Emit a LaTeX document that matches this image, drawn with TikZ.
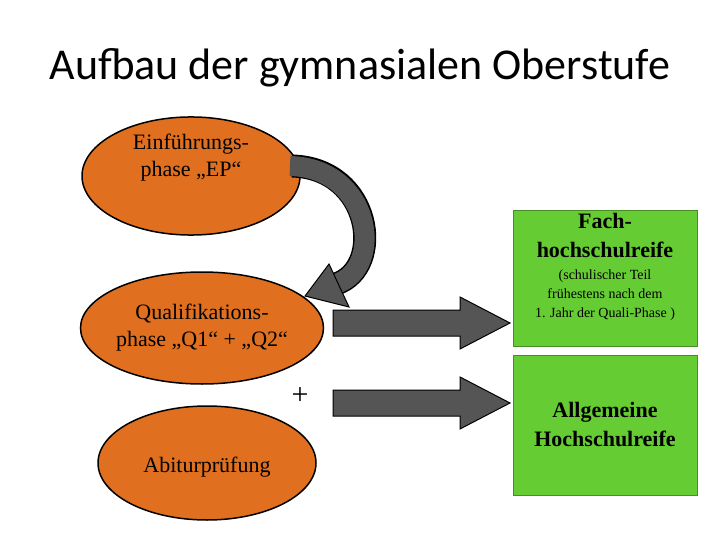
\documentclass[tikz,border=0pt]{standalone}
\usepackage{fontspec}
\setmainfont{Liberation Serif}
\newfontfamily\titlefont{Carlito}
\usetikzlibrary{shapes.geometric}
\definecolor{phaseorange}{HTML}{E07020}
\definecolor{degreegreen}{HTML}{66CC33}
\definecolor{arrowgray}{HTML}{555555}
\begin{document}
\begin{tikzpicture}[x=1pt, y=-1pt,
every node/.style = {align=center, inner sep=0pt},
phase/.style = {ellipse, draw, line width=1.5pt, fill=phaseorange,
                minimum width=218pt, minimum height=108pt, font=\fontsize{22}{27}\selectfont},
degree/.style = {rectangle, fill=degreegreen, draw=degreegreen!70!black, minimum width=184pt},
blockarrow/.style = {fill=arrowgray, draw=black, line width=1pt}]
\useasboundingbox (0,0) rectangle (720,540);
\node[font=\titlefont\fontsize{44}{48}\selectfont] (title) at (360,68) {Aufbau der gymnasialen Oberstufe};
\node[phase] (EP) at (191,176) {Einführungs-\\phase „EP“\\[14pt]};
\node[phase, minimum height=112pt] (Q) at (202,328) {Qualifikations-\\phase „Q1“ + „Q2“};
\node[phase, minimum height=114pt] (Abi) at (207,463) {};
\node[font=\fontsize{22}{27}\selectfont] (Abitext) at (207,467) {Abiturprüfung};
\node[degree, minimum height=136pt] (FHR) at (605,278) {};
\node[degree, minimum height=140pt] (AHR) at (605,425) {};
\node[font=\bfseries\fontsize{22}{29}\selectfont] (FHRtext) at (605,236) {Fach-\\hochschulreife};
\node[font=\fontsize{14}{19}\selectfont] (FHRnote) at (605,295) {(schulischer Teil\\frühestens nach dem\\1. Jahr der Quali-Phase )};
\node[font=\bfseries\fontsize{22}{29}\selectfont] (AHRtext) at (605,424) {Allgemeine\\Hochschulreife};
\node[font=\fontsize{30}{34}\selectfont] (plus) at (300,396) {+};
% curved arrow from EP down to Q
\draw[black, line width=23pt] (292,166) .. controls (372,168) and (385,268) .. (336,284);
\draw[arrowgray, line width=20pt] (290,166) .. controls (372,168) and (385,268) .. (336,284);
\draw[blockarrow] (329,264) -- (305,296) -- (349,307) -- cycle;
% straight arrows to the degrees
\draw[blockarrow] (333,310) -- (460,310) -- (460,297) -- (510,323) -- (460,349) -- (460,336) -- (333,336) -- cycle;
\draw[blockarrow] (333,390) -- (460,390) -- (460,377) -- (510,403) -- (460,429) -- (460,416) -- (333,416) -- cycle;
\end{tikzpicture}
\end{document}
